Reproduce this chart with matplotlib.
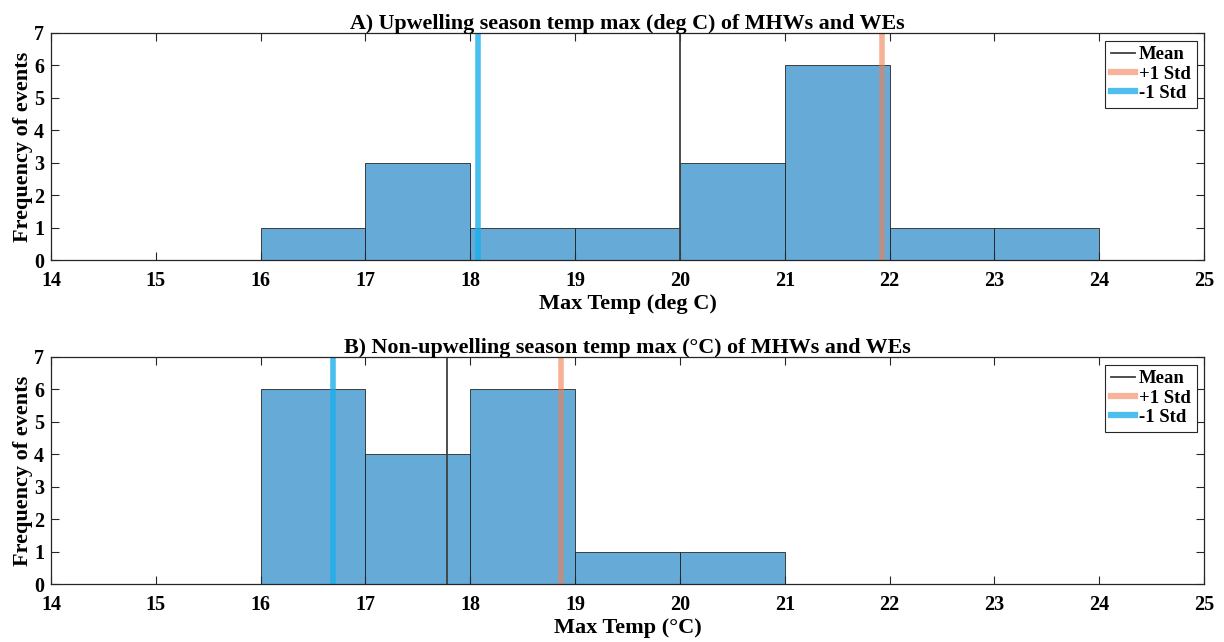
import matplotlib
matplotlib.use("Agg")
import matplotlib.pyplot as plt
import numpy as np

# ---- data ----
bin_edges = [14, 15, 16, 17, 18, 19, 20, 21, 22, 23, 24, 25]
counts_up = [0, 0, 1, 3, 1, 1, 3, 6, 1, 1, 0]
counts_non = [0, 0, 6, 4, 6, 1, 1, 0, 0, 0, 0]
mean_up, std_up = 20.0, 1.93
mean_non, std_non = 17.78, 1.09
title_up = "A) Upwelling season temp max (deg C) of MHWs and WEs"
title_non = "B) Non-upwelling season temp max (\u00b0C) of MHWs and WEs"
xlabel_up = "Max Temp (deg C)"
xlabel_non = "Max Temp (\u00b0C)"
ylabel = "Frequency of events"
xticks = list(range(14, 26))
yticks = list(range(0, 8))

plt.rcParams['font.family'] = ['Liberation Serif', 'DejaVu Serif']
plt.rcParams['font.weight'] = 'bold'

fig = plt.figure(figsize=(12.24, 6.42), dpi=100)
W, H = 1224, 642
ax1 = fig.add_axes([51 / W, 1 - 260 / H, (1204 - 51) / W, (260 - 33) / H])
ax2 = fig.add_axes([51 / W, 1 - 584 / H, (1204 - 51) / W, (584 - 357) / H])

bar_color = (0.0, 0.447, 0.741, 0.6)
edge = '#262626'
centers = [(a + b) / 2 for a, b in zip(bin_edges[:-1], bin_edges[1:])]

for ax, counts, m, s, title, xl in [
    (ax1, counts_up, mean_up, std_up, title_up, xlabel_up),
    (ax2, counts_non, mean_non, std_non, title_non, xlabel_non),
]:
    ax.hist(centers, bins=bin_edges, weights=counts, color=bar_color,
            edgecolor=edge, linewidth=0.6)
    ax.axvline(m, color='#404040', lw=1.3, label='Mean')
    ax.axvline(m + s, color='#F08050', alpha=0.6, lw=4, label='+1 Std')
    ax.axvline(m - s, color='#1AAFEA', alpha=0.8, lw=4, label='-1 Std')
    ax.set_xlim(14, 25)
    ax.set_ylim(0, 7)
    ax.set_xticks(xticks)
    ax.set_yticks(yticks)
    ax.tick_params(axis='x', pad=8)
    ax.tick_params(axis='y', pad=5)
    ax.tick_params(direction='in', top=True, right=True, length=6,
                   width=0.8, color='#262626', labelsize=14.5)
    for lab in ax.get_xticklabels() + ax.get_yticklabels():
        lab.set_fontweight('bold')
    for sp in ax.spines.values():
        sp.set_color('#262626')
        sp.set_linewidth(0.9)
    ax.set_title(title, fontsize=15.8, fontweight='bold', pad=3)
    ax.set_xlabel(xl, fontsize=16, fontweight='bold', labelpad=2)
    ax.set_ylabel(ylabel, fontsize=16, fontweight='bold', labelpad=1)
    leg = ax.legend(loc='upper right', fontsize=13.5, frameon=True, fancybox=False,
                    edgecolor='#262626', framealpha=1, borderpad=0.3,
                    handlelength=1.3, handletextpad=0.2, labelspacing=0.12,
                    borderaxespad=0.4)
    leg.get_frame().set_linewidth(0.8)
    for t in leg.get_texts():
        t.set_fontweight('bold')
    lines = leg.get_lines()
    for h in lines:
        h.set_alpha(None)
    lines[1].set_color('#F8B49A')
    lines[1].set_linewidth(4.5)
    lines[2].set_color('#4DBEEE')
    lines[2].set_linewidth(4.5)

fig.savefig('out.png', dpi=100)
